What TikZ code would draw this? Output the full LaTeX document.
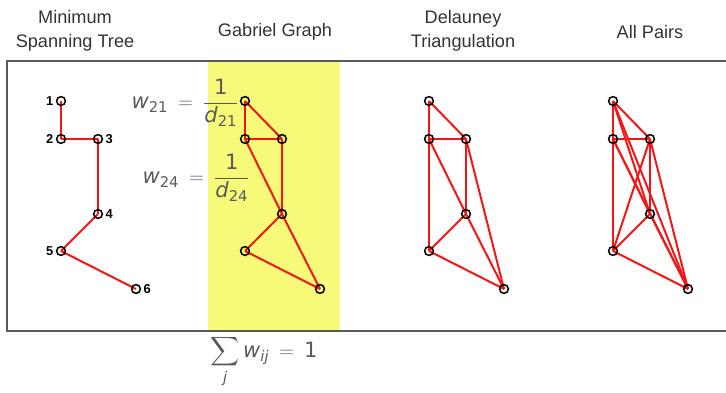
\documentclass[tikz,border=0pt]{standalone}
\usepackage{amsmath}
\usepackage{fontspec}
\setmainfont{Liberation Sans}
\newfontfamily\mathfnt{DejaVu Sans}
\usepackage{tikz}
\usetikzlibrary{positioning,backgrounds}
\definecolor{gphred}{HTML}{F51515}
\definecolor{gphgray}{HTML}{5A5A5A}
\definecolor{gphtext}{HTML}{333333}
\definecolor{gphyellow}{HTML}{F6FA78}
\newcommand{\wvar}[2]{\text{\mathfnt\itshape #1}_{\text{\mathfnt #2}}}
\thickmuskip=9mu

\begin{document}
\begin{tikzpicture}[
    x=0.03cm, y=-0.03cm,
    pt/.style={circle, draw=black, line width=1.3pt, inner sep=0pt, minimum size=7.5pt},
    ptlabel/.style={font=\fontsize{11}{13}\selectfont\bfseries, inner sep=2pt},
    edge/.style={draw=gphred, line width=1.7pt},
    header/.style={font=\fontsize{15.5}{20}\selectfont, text=gphtext, align=center},
    formula/.style={font=\fontsize{18}{20}\selectfont, text=gphgray},
]
    \useasboundingbox (0,0) rectangle (726,393);

    % the four point sets
    \foreach \pre/\dx in {m/0, g/184, d/368, a/552} {
        \foreach \i/\x/\y in {1/61/101, 2/61/139, 3/98/139, 4/98/214, 5/61/251, 6/136/289}
            \node[pt] (\pre\i) at (\x+\dx,\y) {};
    }

    % point numbers of the spanning tree
    \node[ptlabel, left=0pt of m1] (l1) {1};
    \node[ptlabel, left=0pt of m2] (l2) {2};
    \node[ptlabel, right=0pt of m3] (l3) {3};
    \node[ptlabel, right=0pt of m4] (l4) {4};
    \node[ptlabel, left=0pt of m5] (l5) {5};
    \node[ptlabel, right=0pt of m6] (l6) {6};

    \begin{scope}[on background layer]
        \fill[gphyellow] (208,62) rectangle (340,330);
        % minimum spanning tree
        \foreach \u/\v in {1/2, 2/3, 3/4, 4/5, 5/6}
            \draw[edge] (m\u.center) -- (m\v.center);
        % gabriel graph
        \foreach \u/\v in {1/2, 1/3, 2/3, 2/4, 3/4, 4/5, 5/6, 4/6}
            \draw[edge] (g\u.center) -- (g\v.center);
        % delauney triangulation
        \foreach \u/\v in {1/2, 1/3, 2/3, 2/4, 3/4, 2/5, 4/5, 5/6, 4/6, 3/6}
            \draw[edge] (d\u.center) -- (d\v.center);
        % all pairs
        \foreach \u in {1,...,5} {
            \pgfmathtruncatemacro{\first}{\u+1}
            \foreach \v in {\first,...,6}
                \draw[edge] (a\u.center) -- (a\v.center);
        }
    \end{scope}

    % frame, open on the right
    \draw[gphgray, line width=1.6pt] (726,61) -- (7,61) -- (7,331) -- (726,331);

    % column titles
    \node[header] (hmst) at (75,31) {Minimum\\Spanning Tree};
    \node[header] (hgab) at (275,32) {Gabriel Graph};
    \node[header] (hdel) at (463,31) {Delauney\\Triangulation};
    \node[header] (hall) at (650,32) {All Pairs};

    % weights
    \node[formula, anchor=east, inner sep=1pt] (w21) at (240,103) {$\wvar{w}{21} = \dfrac{\text{\mathfnt 1}}{\wvar{d}{21}}$};
    \node[formula, anchor=east, inner sep=1pt] (w24) at (251,178) {$\wvar{w}{24} = \dfrac{\text{\mathfnt 1}}{\wvar{d}{24}}$};
    \node[formula, inner sep=1pt] (wsum) at (264,362) {$\displaystyle\sum_{\text{\mathfnt\itshape j}} \wvar{w}{\itshape ij} = \text{\mathfnt 1}$};
\end{tikzpicture}
\end{document}
